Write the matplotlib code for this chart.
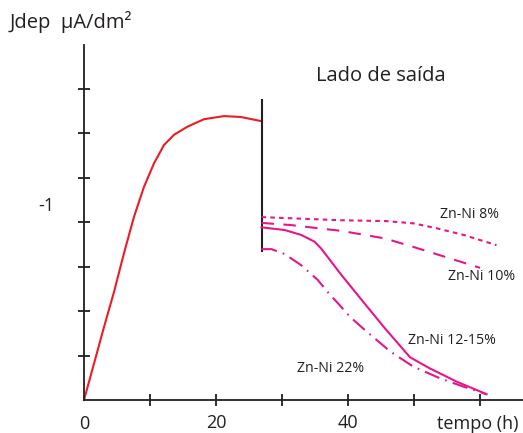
import matplotlib
matplotlib.use('Agg')
import matplotlib.pyplot as plt

plt.rcParams['font.family'] = ['Open Sans', 'DejaVu Sans']

# curva de subida (lado de entrada), tempo em h, Jdep em divisões do eixo
t_red = [0, 1.52, 3.03, 4.55, 6.06, 7.58, 9.09, 10.61, 12.12, 13.64, 15.65,
         18.18, 21.21, 23.74, 26.77]
j_red = [0, 0.82, 1.64, 2.43, 3.30, 4.12, 4.79, 5.32, 5.73, 5.96, 6.14,
         6.31, 6.38, 6.36, 6.27]

# salto no fim do lado de entrada
t_jump = 27.0
j_jump = [3.35, 6.74]

# Zn-Ni 8% (pontilhado)
t_8 = [26.9, 38.8, 45.8, 49.9, 53.4, 57.5, 62.5]
j_8 = [4.11, 4.04, 4.02, 3.97, 3.86, 3.71, 3.48]

# Zn-Ni 10% (tracejado)
t_10 = [26.9, 31.4, 39.0, 45.6, 49.9, 55.5, 60.0]
j_10 = [3.98, 3.93, 3.80, 3.63, 3.44, 3.18, 2.97]

# Zn-Ni 12-15% (contínuo)
t_12 = [26.9, 30.4, 32.9, 34.9, 35.9, 39.0, 42.5, 45.6, 49.4, 52.4, 56.5, 61.0]
j_12 = [3.88, 3.82, 3.71, 3.56, 3.41, 2.81, 2.17, 1.61, 0.96, 0.71, 0.41, 0.13]

# Zn-Ni 22% (traço-ponto)
t_22 = [26.9, 28.4, 30.4, 32.9, 35.4, 37.3, 38.5, 40.3, 42.5, 46.4, 49.9,
        53.9, 57.5, 61.0]
j_22 = [3.39, 3.39, 3.28, 3.03, 2.70, 2.36, 2.17, 1.87, 1.58, 1.09, 0.75,
        0.49, 0.30, 0.13]

x_ticks = [10, 20, 30, 40, 50, 60]
x_labels = ['', '20', '', '40', '', '']
y_ticks = [1, 2, 3, 4, 5, 6, 7]

RED = '#ec1c24'
PINK = '#e5168a'
TC = '#231f20'

fig = plt.figure(figsize=(5.23, 4.33), dpi=100)
ax = fig.add_axes([84/523, 33/433, 439/523, 355/433])
ax.set_xlim(0, 439/6.6)
ax.set_ylim(0, 355/44.5)

for s in ['top', 'right']:
    ax.spines[s].set_visible(False)
for s in ['left', 'bottom']:
    ax.spines[s].set_linewidth(1.3)
    ax.spines[s].set_color(TC)

ax.set_xticks(x_ticks)
ax.set_xticklabels(x_labels, fontsize=13, color=TC)
ax.set_yticks(y_ticks)
ax.set_yticklabels([])
ax.tick_params(axis='both', direction='inout', length=8, width=1.3, color=TC)
ax.tick_params(axis='x', pad=6)

ax.plot(t_red, j_red, color=RED, lw=1.5, clip_on=False)
ax.plot([t_jump, t_jump], j_jump, color=TC, lw=1.5)
ax.plot(t_8, j_8, color=PINK, lw=1.5, linestyle=(0, (2.2, 2.0)))
ax.plot(t_10, j_10, color=PINK, lw=1.5, linestyle=(0, (6, 4.5)))
ax.plot(t_12, j_12, color=PINK, lw=1.5)
ax.plot(t_22, j_22, color=PINK, lw=1.5, linestyle=(0, (7.5, 3, 0.8, 3)))

fig.text(10/523, 1-22/433, 'Jdep  μA/dm²', fontsize=14.5, color=TC, va='center', ha='left')
fig.text(381/523, 1-76/433, 'Lado de saída', fontsize=14.5, color=TC, va='center', ha='center')
fig.text(46/523, 1-206/433, '-1', fontsize=13, color=TC, va='center', ha='center')
fig.text(84/523, 1-424/433, '0', fontsize=13, color=TC, va='center', ha='center')
fig.text(478/523, 1-424/433, 'tempo (h)', fontsize=13, color=TC, va='center', ha='center')
fig.text(469/523, 1-215/433, 'Zn-Ni 8%', fontsize=10.2, color=TC, va='center', ha='center')
fig.text(482/523, 1-277/433, 'Zn-Ni 10%', fontsize=10.2, color=TC, va='center', ha='center')
fig.text(452/523, 1-340/433, 'Zn-Ni 12-15%', fontsize=10.2, color=TC, va='center', ha='center')
fig.text(331/523, 1-369/433, 'Zn-Ni 22%', fontsize=10.2, color=TC, va='center', ha='center')

fig.savefig('out.png', dpi=100)
